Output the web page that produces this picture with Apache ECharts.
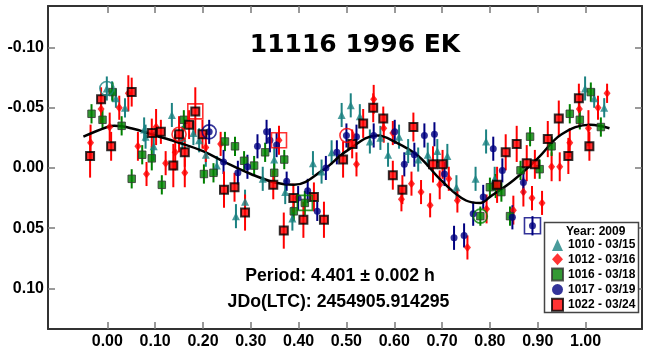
<!DOCTYPE html>
<html><head><meta charset="utf-8">
<script src="https://cdn.jsdelivr.net/npm/echarts@6/dist/echarts.min.js"></script>
<style>html,body{margin:0;padding:0;background:#fff}#c{width:648px;height:351px}</style>
</head><body><div id="c"></div>
<script>
// ---- data ----
const xTicks = [0,0.1,0.2,0.3,0.4,0.5,0.6,0.7,0.8,0.9,1.0];
const yTicks = [-0.10,-0.05,0,0.05,0.10];

const x1010 = [-0.001,0.010,0.018,0.037,0.077,0.080,0.097,0.135,0.157,0.180,0.192,0.206,0.229,0.269,0.288,0.325,0.349,0.372,0.387,0.430,0.448,0.469,0.490,0.509,0.528,0.549,0.571,0.587,0.610,0.629,0.650,0.670,0.690,0.711,0.730,0.770,0.792,0.810,0.999,1.018,1.039];
const y1010 = [-0.066,-0.064,-0.058,-0.050,-0.032,-0.026,-0.018,-0.044,-0.025,-0.029,-0.023,-0.011,-0.002,0.040,0.028,0.009,-0.007,0.020,0.042,-0.004,0.003,-0.013,-0.044,-0.052,-0.043,-0.022,-0.025,-0.011,-0.026,-0.014,-0.007,-0.011,-0.014,-0.010,0.016,0.009,-0.022,0.009,-0.066,-0.058,-0.050];
const e1010 = [0.010,0.008,0.008,0.008,0.010,0.010,0.012,0.010,0.010,0.010,0.010,0.010,0.008,0.010,0.010,0.010,0.010,0.010,0.010,0.010,0.010,0.010,0.010,0.010,0.010,0.010,0.010,0.010,0.010,0.010,0.010,0.010,0.010,0.010,0.010,0.010,0.010,0.010,0.010,0.008,0.008];

const x1012 = [-0.035,-0.013,0.005,0.025,0.044,0.064,0.082,0.102,0.122,0.142,0.162,0.206,0.237,0.359,0.521,0.557,0.578,0.597,0.615,0.636,0.656,0.675,0.695,0.714,0.732,0.753,0.793,0.849,0.870,0.888,0.909,0.929,0.946,0.967,0.987,1.006,1.026,1.045];
const y1012 = [-0.021,-0.049,-0.034,-0.050,-0.062,-0.018,0.005,-0.034,-0.004,-0.013,0.004,-0.017,-0.020,-0.023,-0.003,-0.057,-0.033,-0.029,0.026,0.013,0.020,0.031,0.014,0.009,0.027,0.066,0.034,0.035,0.020,0.025,0.029,-0.001,-0.001,-0.021,-0.049,-0.033,-0.050,-0.062];
const e1012 = [0.015,0.012,0.012,0.010,0.015,0.012,0.010,0.015,0.010,0.015,0.012,0.012,0.010,0.012,0.010,0.012,0.012,0.010,0.010,0.010,0.010,0.010,0.012,0.010,0.010,0.010,0.012,0.012,0.012,0.010,0.010,0.012,0.012,0.012,0.015,0.015,0.010,0.008];

const x1016 = [-0.033,-0.010,0.011,0.030,0.051,0.073,0.093,0.114,0.160,0.202,0.222,0.246,0.267,0.286,0.307,0.330,0.349,0.370,0.390,0.413,0.780,0.800,0.812,0.824,0.842,0.864,0.884,0.904,0.929,0.967,0.988,1.011,1.032];
const y1016 = [-0.045,-0.040,-0.063,-0.035,0.009,-0.011,-0.008,0.014,-0.040,0.005,0.004,-0.022,-0.018,-0.006,-0.002,-0.013,0.004,-0.007,0.036,0.029,0.040,0.016,0.015,0.020,0.040,0.002,-0.026,0.001,-0.018,-0.045,-0.040,-0.063,-0.034];
const e1016 = [0.008,0.008,0.008,0.008,0.008,0.008,0.010,0.008,0.008,0.008,0.008,0.008,0.008,0.008,0.008,0.008,0.008,0.008,0.008,0.010,0.008,0.008,0.010,0.008,0.008,0.008,0.008,0.008,0.008,0.008,0.008,0.008,0.008];

const x1017 = [0.213,0.243,0.273,0.293,0.314,0.333,0.340,0.354,0.375,0.399,0.419,0.439,0.457,0.480,0.500,0.521,0.557,0.601,0.621,0.642,0.663,0.684,0.705,0.725,0.746,0.765,0.786,0.807,0.826,0.847,0.870,0.889];
const y1017 = [-0.030,-0.005,0.004,-0.001,-0.018,-0.030,-0.023,-0.019,0.011,0.025,0.019,0.036,0.000,-0.013,-0.027,-0.026,-0.027,-0.030,-0.003,-0.011,-0.027,-0.028,0.005,0.058,0.056,0.038,0.024,-0.016,0.002,0.041,0.012,0.048];
const e1017 = [0.010,0.010,0.010,0.010,0.010,0.010,0.010,0.010,0.008,0.010,0.010,0.008,0.010,0.010,0.010,0.010,0.010,0.010,0.010,0.010,0.010,0.010,0.010,0.010,0.010,0.010,0.010,0.010,0.010,0.010,0.010,0.008];

const x1022 = [-0.036,-0.013,0.008,0.051,0.093,0.112,0.138,0.150,0.162,0.171,0.184,0.199,0.244,0.266,0.288,0.347,0.369,0.389,0.410,0.432,0.453,0.493,0.512,0.535,0.556,0.577,0.597,0.617,0.640,0.681,0.701,0.815,0.833,0.856,0.877,0.894,0.921,0.944,0.964,0.986,1.008];
const y1022 = [-0.010,-0.057,-0.018,-0.063,-0.029,-0.030,-0.002,-0.028,-0.013,-0.036,-0.047,-0.028,0.018,0.016,0.037,0.014,0.052,0.025,0.043,0.024,0.043,-0.007,-0.020,-0.037,-0.050,-0.041,0.006,0.018,-0.034,-0.003,-0.003,0.014,-0.013,-0.020,-0.004,-0.003,-0.024,-0.041,-0.010,-0.058,-0.018];
const e1022 = [0.018,0.010,0.012,0.012,0.012,0.010,0.018,0.015,0.012,0.012,0.020,0.012,0.015,0.012,0.015,0.012,0.015,0.012,0.015,0.012,0.015,0.015,0.012,0.012,0.012,0.010,0.012,0.012,0.012,0.015,0.012,0.015,0.015,0.015,0.015,0.012,0.015,0.015,0.015,0.012,0.012];

// highlighted (open) markers
const ringTealX = [-0.001], ringTealY = [-0.066];
const ringRedX = [0.150,0.501], ringRedY = [-0.028,-0.027];
const ringNavyX = [0.213], ringNavyY = [-0.030];
const ringGreenX = [0.780], ringGreenY = [0.040];
const boxRedX = [0.184,0.359], boxRedY = [-0.047,-0.023];
const boxGreenX = [0.413], boxGreenY = [0.029];
const boxNavyX = [0.889], boxNavyY = [0.048];

// fitted curve
const curveX = [-0.05,0,0.015,0.05,0.1,0.15,0.2,0.25,0.3,0.35,0.39,0.45,0.5,0.565,0.6,0.65,0.7,0.75,0.78,0.8,0.85,0.9,0.95,1.01,1.05];
const curveY = [-0.026,-0.034,-0.035,-0.033,-0.027,-0.021,-0.014,-0.004,0.005,0.012,0.014,0.002,-0.014,-0.027,-0.022,-0.010,0.011,0.027,0.029,0.024,0.010,-0.008,-0.028,-0.036,-0.033];

const titleText = '11116 1996 EK';
const periodText = 'Period: 4.401 \u00b1 0.002 h';
const jdText = 'JDo(LTC): 2454905.914295';
const legendTitle = 'Year: 2009';
const names = ['1010 - 03/15','1012 - 03/16','1016 - 03/18','1017 - 03/19','1022 - 03/24'];

// ---- build ----
const zip2 = (a,b) => a.map((v,i)=>[v,b[i]]);
const zip3 = (a,b,c) => a.map((v,i)=>[v,b[i],c[i]]);

const C = {teal:'#1c8282', red:'#ff0000', green:'#008000', navy:'#000080'};
const FONT = '"Liberation Sans", Arial, sans-serif';

function errSeries(data, color, w){
  return {
    type:'custom', data:data, z:2, silent:true,
    encode:{x:0,y:1},
    renderItem:function(params, api){
      const x=api.value(0), y=api.value(1), e=api.value(2);
      const p1=api.coord([x,y-e]), p2=api.coord([x,y+e]);
      return {type:'line', shape:{x1:p1[0],y1:p1[1],x2:p2[0],y2:p2[1]}, style:{stroke:color, lineWidth:w}};
    }
  };
}
function openSeries(xs, ys, symbol, color, size){
  return {type:'scatter', data:zip2(xs,ys), symbol:symbol, symbolSize:size, z:5, silent:true,
    itemStyle:{color:'none', borderColor:color, borderWidth:1.6}};
}

const chart = echarts.init(document.getElementById('c'), null, {renderer:'canvas'});
const tickCommon = {show:true, inside:true, length:7, lineStyle:{color:'#7a7a7a', width:1.5}};
const lineCommon = {show:true, onZero:false, lineStyle:{color:'#333', width:2}};

chart.setOption({
  animation:false,
  backgroundColor:'#fff',
  grid:{left:48, right:6, top:6, bottom:22},
  xAxis:[{
    type:'value', min:-0.124, max:1.118, position:'bottom',
    axisLine:lineCommon, splitLine:{show:false},
    axisTick:Object.assign({customValues:xTicks}, tickCommon),
    axisLabel:{customValues:xTicks, formatter:v=>v.toFixed(2), margin:5, color:'#000', fontFamily:FONT, fontWeight:'bold', fontSize:16}
  },{
    type:'value', min:-0.124, max:1.118, position:'top',
    axisLine:lineCommon, splitLine:{show:false},
    axisTick:Object.assign({customValues:xTicks}, tickCommon),
    axisLabel:{show:false}
  }],
  yAxis:[{
    type:'value', min:-0.1345, max:0.1337, inverse:true, position:'left',
    axisLine:lineCommon, splitLine:{show:false},
    axisTick:Object.assign({customValues:yTicks}, tickCommon),
    axisLabel:{customValues:yTicks, formatter:v=>v.toFixed(2), margin:4, color:'#000', fontFamily:FONT, fontWeight:'bold', fontSize:16}
  },{
    type:'value', min:-0.1345, max:0.1337, inverse:true, position:'right',
    axisLine:lineCommon, splitLine:{show:false},
    axisTick:Object.assign({customValues:yTicks}, tickCommon),
    axisLabel:{show:false}
  }],
  legend:{
    orient:'vertical', left:551, top:239, padding:0, itemGap:2.2, itemWidth:11, itemHeight:12, z:20,
    data:names, selectedMode:false,
    textStyle:{fontFamily:FONT, fontWeight:'bold', fontSize:12, color:'#000'}
  },
  graphic:[
    {type:'rect', z:15, shape:{x:544.5, y:222.5, width:94, height:90}, style:{fill:'#fff', stroke:'#444', lineWidth:1.5}},
    {type:'text', z:20, x:566, y:231.5, style:{text:legendTitle, fontFamily:FONT, fontWeight:'bold', fontSize:12, fill:'#000', textVerticalAlign:'middle'}},
    {type:'text', z:20, x:355, y:45, style:{text:titleText, fontFamily:'"DejaVu Sans", sans-serif', fontWeight:'bold', fontSize:25, fill:'#000', textAlign:'center', textVerticalAlign:'middle'}},
    {type:'text', z:20, x:340, y:276, style:{text:periodText, fontFamily:FONT, fontWeight:'bold', fontSize:17.7, fill:'#000', textAlign:'center', textVerticalAlign:'middle'}},
    {type:'text', z:20, x:338.5, y:302.5, style:{text:jdText, fontFamily:FONT, fontWeight:'bold', fontSize:17.7, fill:'#000', textAlign:'center', textVerticalAlign:'middle'}}
  ],
  series:[
    errSeries(zip3(x1010,y1010,e1010), C.teal, 2),
    errSeries(zip3(x1012,y1012,e1012), C.red, 2),
    errSeries(zip3(x1016,y1016,e1016), C.green, 2),
    errSeries(zip3(x1017,y1017,e1017), C.navy, 2),
    errSeries(zip3(x1022,y1022,e1022), C.red, 2),
    {type:'line', data:zip2(curveX,curveY), smooth:0.4, symbol:'none', z:3, silent:true,
      lineStyle:{color:'#000', width:2.5}},
    {name:names[0], type:'scatter', data:zip2(x1010,y1010), symbol:'triangle', symbolSize:8, z:4,
      itemStyle:{color:C.teal}},
    {name:names[1], type:'scatter', data:zip2(x1012,y1012), symbol:'diamond', symbolSize:[7,9], z:4,
      itemStyle:{color:C.red}},
    {name:names[2], type:'scatter', data:zip2(x1016,y1016), symbol:'rect', symbolSize:7.5, z:4,
      itemStyle:{color:C.green, borderColor:'#333', borderWidth:1}},
    {name:names[3], type:'scatter', data:zip2(x1017,y1017), symbol:'circle', symbolSize:7, z:4,
      itemStyle:{color:C.navy}},
    {name:names[4], type:'scatter', data:zip2(x1022,y1022), symbol:'rect', symbolSize:8, z:4,
      itemStyle:{color:C.red, borderColor:'#000', borderWidth:2}},
    openSeries(ringTealX, ringTealY, 'circle', C.teal, 14),
    openSeries(ringRedX, ringRedY, 'circle', C.red, 14),
    openSeries(ringNavyX, ringNavyY, 'circle', C.navy, 14),
    openSeries(ringGreenX, ringGreenY, 'circle', C.green, 14),
    openSeries(boxRedX, boxRedY, 'rect', C.red, 15),
    openSeries(boxGreenX, boxGreenY, 'rect', C.green, 15),
    openSeries(boxNavyX, boxNavyY, 'rect', C.navy, 16)
  ]
});
</script></body></html>
